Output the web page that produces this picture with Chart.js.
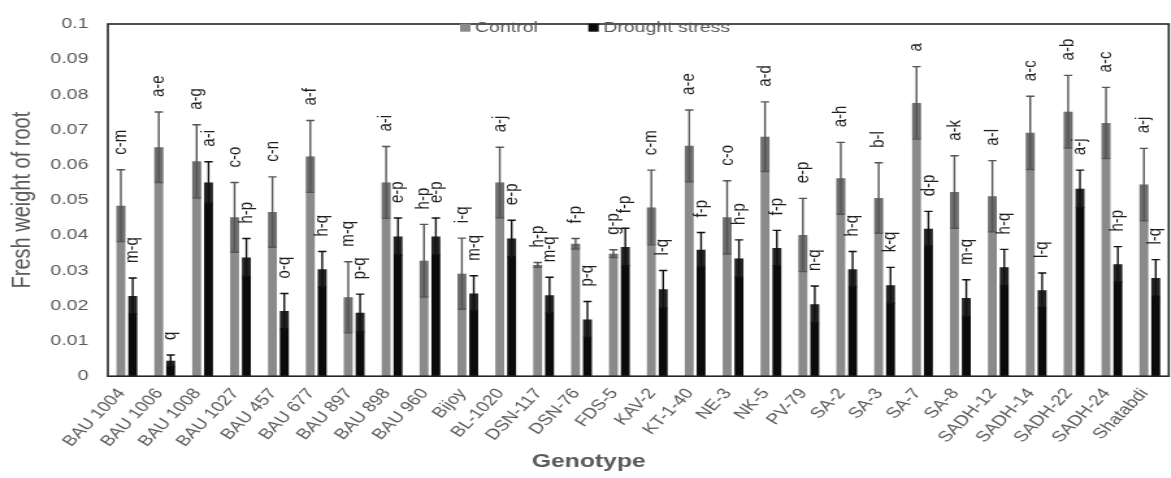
<!DOCTYPE html>
<html>
<head>
<meta charset="utf-8">
<script src="https://cdn.jsdelivr.net/npm/chart.js@4.4.1/dist/chart.umd.min.js"></script>
<style>
  html, body { margin: 0; padding: 0; background: #fff; overflow: hidden; }
  #wrap { width: 1171px; height: 478px; overflow: hidden; }
  canvas { display: block; }
</style>
</head>
<body>
<div id="wrap"><canvas id="c" width="908" height="478" style="width:1180px;height:478px"></canvas></div>
<script>
// Root fresh weight per genotype under control and drought stress
const genotypes = ['BAU 1004','BAU 1006','BAU 1008','BAU 1027','BAU 457','BAU 677','BAU 897','BAU 898','BAU 960','Bijoy',
  'BL-1020','DSN-117','DSN-76','FDS-5','KAV-2','KT-1-40','NE-3','NK-5','PV-79','SA-2',
  'SA-3','SA-7','SA-8','SADH-12','SADH-14','SADH-22','SADH-24','Shatabdi'];

const controlValues = [0.0484,0.0650,0.0610,0.0451,0.0466,0.0624,0.0224,0.0550,0.0328,0.0291,
  0.0550,0.0316,0.0376,0.0348,0.0479,0.0654,0.0451,0.0680,0.0401,0.0562,
  0.0506,0.0776,0.0523,0.0511,0.0691,0.0751,0.0719,0.0544];
const controlErrors = [0.0102,0.0100,0.0104,0.0099,0.0100,0.0102,0.0101,0.0102,0.0103,0.0101,
  0.0100,0.0007,0.0015,0.0011,0.0106,0.0102,0.0104,0.0099,0.0104,0.0102,
  0.0100,0.0103,0.0103,0.0101,0.0104,0.0103,0.0101,0.0103];
const controlLetters = ['c-m','a-e','a-g','c-o','c-n','a-f','m-q','a-i','h-p','i-q',
  'a-j','h-p','f-p','g-p','c-m','a-e','c-o','a-d','e-p','a-h',
  'b-l','a','a-k','a-l','a-c','a-b','a-c','a-j'];

const droughtValues = [0.0228,0.0044,0.0550,0.0337,0.0185,0.0304,0.0180,0.0397,0.0397,0.0235,
  0.0391,0.0230,0.0161,0.0367,0.0247,0.0359,0.0334,0.0364,0.0204,0.0304,
  0.0258,0.0419,0.0222,0.0309,0.0244,0.0532,0.0318,0.0279];
const droughtErrors = [0.0051,0.0016,0.0059,0.0054,0.0050,0.0050,0.0053,0.0052,0.0052,0.0050,
  0.0052,0.0051,0.0051,0.0053,0.0053,0.0049,0.0053,0.0050,0.0052,0.0050,
  0.0051,0.0049,0.0052,0.0051,0.0049,0.0053,0.0050,0.0052];
const droughtLetters = ['m-q','q','a-i','h-p','o-q','h-q','p-q','e-p','e-p','m-q',
  'e-p','m-q','p-q','f-p','l-q','f-p','h-p','f-p','n-q','h-q',
  'k-q','d-p','m-q','h-q','l-q','a-j','h-p','l-q'];

const yTickLabels = ['0','0.01','0.02','0.03','0.04','0.05','0.06','0.07','0.08','0.09','0.1'];

const FONT = '"Liberation Sans", Arial, sans-serif';
const GREY_TEXT = '#595959';

const series = [
  { label: 'Control', values: controlValues, errors: controlErrors, letters: controlLetters,
    fill: '#8a8a8a', whisker: '#555555', band: 'rgba(40,40,40,0.28)' },
  { label: 'Drought stress', values: droughtValues, errors: droughtErrors, letters: droughtLetters,
    fill: '#0b0b0b', whisker: '#111111', band: 'rgba(255,255,255,0.10)' }
];

// Box around the plotting area
const frame = {
  id: 'frame',
  afterDraw(chart) {
    const { ctx, chartArea: a } = chart;
    ctx.save();
    ctx.strokeStyle = '#262626';
    ctx.lineWidth = 1.6;
    ctx.strokeRect(a.left, a.top, a.right - a.left, a.bottom - a.top);
    ctx.restore();
  }
};

// Error bars (mean ± error) and the significance letters above them
const errorBars = {
  id: 'errorBars',
  afterDatasetsDraw(chart) {
    const { ctx } = chart;
    const ys = chart.scales.y;
    ctx.save();
    series.forEach((s, d) => {
      const meta = chart.getDatasetMeta(d);
      meta.data.forEach((bar, j) => {
        const v = s.values[j], e = s.errors[j];
        const yTop = ys.getPixelForValue(v + e);
        const yLow = ys.getPixelForValue(Math.max(v - e, 0));
        const yVal = ys.getPixelForValue(v);
        const w = bar.width;
        ctx.fillStyle = s.band;
        ctx.fillRect(bar.x - w / 2, yVal, w, yLow - yVal);
        const cap = 3.2;
        ctx.strokeStyle = s.whisker;
        ctx.lineWidth = 1.4;
        ctx.beginPath();
        ctx.moveTo(bar.x, yTop); ctx.lineTo(bar.x, yLow);
        ctx.moveTo(bar.x - cap, yTop); ctx.lineTo(bar.x + cap, yTop);
        ctx.moveTo(bar.x - cap, yLow); ctx.lineTo(bar.x + cap, yLow);
        ctx.stroke();

        ctx.save();
        ctx.translate(bar.x, yTop - 15);
        ctx.rotate(-Math.PI / 2);
        ctx.fillStyle = '#1f1f1f';
        ctx.font = '15px ' + FONT;
        ctx.textAlign = 'left';
        ctx.textBaseline = 'middle';
        ctx.fillText(s.letters[j], 0, 0);
        ctx.restore();
      });
    });
    ctx.restore();
  }
};

// Legend placed inside the top of the plotting area
const innerLegend = {
  id: 'innerLegend',
  afterDraw(chart) {
    const { ctx } = chart;
    const cy = 27.7;
    const items = [
      { x: 354, ds: chart.data.datasets[0] },
      { x: 452.7, ds: chart.data.datasets[1] }
    ];
    ctx.save();
    ctx.font = '15px ' + FONT;
    ctx.textBaseline = 'middle';
    ctx.textAlign = 'left';
    items.forEach(it => {
      ctx.fillStyle = it.ds.backgroundColor;
      ctx.fillRect(it.x, cy - 4, 8, 8);
      ctx.fillStyle = GREY_TEXT;
      ctx.fillText(it.ds.label, it.x + 11.5, cy + 0.5);
    });
    ctx.restore();
  }
};

new Chart(document.getElementById('c'), {
  type: 'bar',
  data: {
    labels: genotypes,
    datasets: series.map(s => ({
      label: s.label,
      data: s.values,
      backgroundColor: s.fill,
      borderWidth: 0,
      categoryPercentage: 0.626,
      barPercentage: 0.75
    }))
  },
  options: {
    responsive: false,
    animation: false,
    devicePixelRatio: 1,
    layout: { padding: { top: 14, right: 2, left: 0, bottom: 0 } },
    plugins: {
      legend: { display: false },
      tooltip: { enabled: false },
      title: {
        display: true,
        position: 'bottom',
        text: 'Genotype',
        color: GREY_TEXT,
        font: { family: FONT, size: 19, weight: 'bold' },
        padding: { top: 0, bottom: 5 }
      }
    },
    scales: {
      x: {
        grid: { display: false, drawTicks: false },
        border: { display: false },
        ticks: {
          autoSkip: false,
          maxRotation: 52,
          minRotation: 52,
          padding: 9,
          labelOffset: -4,
          color: GREY_TEXT,
          font: { family: FONT, size: 15 }
        },
        afterFit(scale) { scale.height = 74; }
      },
      y: {
        min: 0,
        max: 0.1,
        grid: { display: false, drawTicks: false },
        border: { display: false },
        ticks: {
          stepSize: 0.01,
          padding: 15,
          color: GREY_TEXT,
          font: { family: FONT, size: 15 },
          callback: (v, i) => yTickLabels[i]
        },
        title: {
          display: true,
          text: 'Fresh weight of root',
          color: GREY_TEXT,
          font: { family: FONT, size: 20 },
          padding: { top: 5, bottom: 0 }
        },
        afterFit(scale) { scale.width = 83; }
      }
    }
  },
  plugins: [frame, errorBars, innerLegend]
});
</script>
</body>
</html>
